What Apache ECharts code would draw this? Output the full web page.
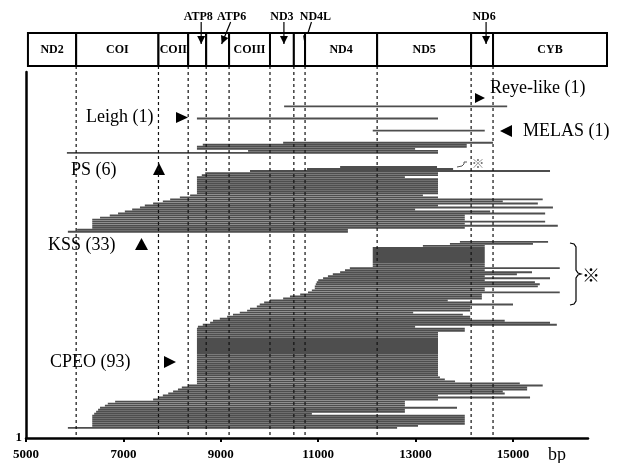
<!DOCTYPE html>
<html><head><meta charset="utf-8">
<script src="https://cdn.jsdelivr.net/npm/echarts@6/dist/echarts.min.js"></script>
<style>html,body{margin:0;padding:0;background:#fff}#c{width:621px;height:463px}</style>
</head><body><div id="c"></div>
<script>
// ---------- DATA ----------
const tickValues = [5000, 7000, 9000, 11000, 13000, 15000];
const geneNames  = ['ND2','COI','COII','ATP8','ATP6','COIII','ND3','ND4L','ND4','ND5','ND6','CYB'];
const geneStarts = [5040, 6030, 7720, 8330, 8700, 9170, 10010, 10500, 10730, 12210, 14140, 14590];
const geneEnds   = [6030, 7720, 8330, 8700, 9170, 10010, 10500, 10730, 12210, 14140, 14590, 16930];
const smallGenes = ['ATP8','ATP6','ND3','ND4L','ND6'];

// deletions, listed top to bottom (start bp, end bp)
const reyeStart  = [10300];
const reyeEnd    = [14880];
const leighStart = [8510];
const leighEnd   = [13460];
const melasStart = [12120];
const melasEnd   = [14420];
const psStart = [10280, 8630, 8510, 8510, 9560, 5840];
const psEnd   = [14590, 14050, 14050, 12990, 13460, 13460];
const kssStart = [11450,10770,9600,8680,8610,
  8510,8510,8510,8510,8510,8510,8510,8510,8510,
  8370,8160,7960,7810,7610,7440,7340,7180,7030,6890,6720,6520,
  6360,6360,6360,6360,6360,6050,5860];
const kssEnd = [13440,13770,15760,13460,13460,12780,
  13460,13460,13460,13460,13460,13460,13460,13460,
  13150,13460,15610,14790,15510,13460,15820,12990,14530,15660,14010,14010,14010,15660,14010,15920,14010,11610,11610];
const cpeoStart = [13910,13705,13150,
  12120,12120,12120,12120,12120,12120,12120,12120,12120,12120,
  11650,11550,11450,11300,11200,11100,11000,10970,10950,10930,10930,10870,10790,10630,10420,10280,
  10010,9890,9800,9740,9600,9540,9390,9250,9130,8980,8840,8780,8630,8530,
  8510,8510,8510,8510,8510,8510,8510,8510,8510,8510,8510,8510,8510,8510,
  8510,8510,8510,8510,8510,8510,8510,8510,8510,8510,8510,8510,8510,8510,
  8330,8200,8120,8020,7920,7810,7710,7610,
  6830,6680,6620,6520,6480,6440,6400,
  6360,6360,6360,6360,6360,6360,
  5860];
const cpeoEnd = [15720,15410,14420,
  14420,14420,14420,14420,14420,14420,14420,14420,14420,14420,
  15960,14420,15390,15080,14420,15760,14420,15450,15550,15510,14420,14420,15960,14360,14360,14360,
  13660,14160,15000,14120,14120,14120,12950,13970,14120,14120,14830,15760,15900,12990,
  14010,14010,
  13460,13460,13460,13460,13460,13460,13460,13460,13460,13460,13460,
  13460,13460,13460,13460,13460,13460,13460,13460,13460,13460,13460,
  13500,13600,13810,15140,
  15610,15290,15290,14790,14830,13460,15350,13460,
  12780,12780,12780,13850,12780,12780,10870,
  14010,14010,14010,14010,14010,13050,
  12620];

// ---------- LAYOUT ----------
const groups = [
  {starts: reyeStart,  ends: reyeEnd,  topRow: 164},
  {starts: leighStart, ends: leighEnd, topRow: 158},
  {starts: melasStart, ends: melasEnd, topRow: 152},
  {starts: psStart,    ends: psEnd,    topRow: 146},
  {starts: kssStart,   ends: kssEnd,   topRow: 134},
  {starts: cpeoStart,  ends: cpeoEnd,  topRow: 97}
];
const bars = [];
groups.forEach(g => g.starts.forEach((s, i) => bars.push([s, g.ends[i], g.topRow - i])));
const geneData = geneNames.map((n, i) => [geneStarts[i], geneEnds[i]]);
const boundaryData = geneStarts.slice(1).map(b => [b]);

const SERIF = '"Liberation Serif","Times New Roman",serif';
const arrowStyle = {ATP8:{lx:1,sx:4,tx:4}, ATP6:{lx:14,sx:13,tx:4}, ND3:{lx:0,sx:2,tx:2}, ND4L:{lx:16,sx:12,tx:5}, ND6:{lx:2,sx:4,tx:4}};

function arrowHead(sx, sy, tx, ty, len, hw) {
  const dx = tx - sx, dy = ty - sy, L = Math.hypot(dx, dy);
  const ux = dx / L, uy = dy / L;
  const bx = tx - ux * len, by = ty - uy * len;
  return [[tx, ty], [bx - uy * hw, by + ux * hw], [bx + uy * hw, by - ux * hw]];
}

const chart = echarts.init(document.getElementById('c'));
const option = {
  animation: false,
  backgroundColor: '#fff',
  grid: [
    {left: 26, top: 72, width: 562, height: 366},
    {left: 26, top: 33, width: 581, height: 33}
  ],
  xAxis: [
    {type: 'value', gridIndex: 0, min: 5000, max: 16540,
      axisLine: {show: true, lineStyle: {color: '#000', width: 2.5}},
      axisTick: {show: true, length: 4, customValues: tickValues, lineStyle: {color: '#000', width: 2}},
      axisLabel: {customValues: tickValues, formatter: v => String(v), color: '#000', fontFamily: SERIF, fontWeight: 'bold', fontSize: 13, margin: 10},
      splitLine: {show: false}},
    {type: 'value', gridIndex: 1, min: 5000, max: 16930, show: false}
  ],
  yAxis: [
    {type: 'value', gridIndex: 0, min: 0, max: 181, interval: 181,
      axisLine: {show: true, lineStyle: {color: '#000', width: 2.5}},
      axisTick: {show: false},
      axisLabel: {formatter: v => v === 0 ? '1' : '', color: '#000', fontFamily: SERIF, fontWeight: 'bold', fontSize: 13, margin: 4, verticalAlign: 'middle'},
      splitLine: {show: false}},
    {type: 'value', gridIndex: 1, min: 0, max: 1, show: false}
  ],
  series: [
    {type: 'custom', xAxisIndex: 0, yAxisIndex: 0, data: bars, encode: {x: [0, 1], y: 2}, z: 2,
      renderItem: function (params, api) {
        const s = api.coord([api.value(0), api.value(2)]);
        const e = api.coord([api.value(1), api.value(2)]);
        const h = api.size([0, 1])[1] * 0.95;
        return {type: 'rect', shape: {x: s[0], y: s[1] - h / 2, width: e[0] - s[0], height: h}, style: {fill: '#4e4e4e'}};
      }},
    {type: 'custom', xAxisIndex: 0, yAxisIndex: 0, data: boundaryData, encode: {x: 0}, z: 3, clip: false,
      renderItem: function (params, api) {
        const top = api.coord([api.value(0), 181]);
        const bot = api.coord([api.value(0), 0]);
        return {type: 'line', shape: {x1: top[0], y1: top[1] - 6, x2: bot[0], y2: bot[1] - 2},
          style: {stroke: '#111', lineWidth: 1.2, lineDash: [3, 3]}};
      }},
    {type: 'custom', xAxisIndex: 1, yAxisIndex: 1, data: geneData, encode: {x: [0, 1]}, z: 4, clip: false,
      renderItem: function (params, api) {
        const name = geneNames[params.dataIndex];
        const a = api.coord([api.value(0), 1]);
        const b = api.coord([api.value(1), 0]);
        const cx = (a[0] + b[0]) / 2, cy = (a[1] + b[1]) / 2;
        const children = [{type: 'rect', shape: {x: a[0], y: a[1], width: b[0] - a[0], height: b[1] - a[1]},
          style: {fill: '#fff', stroke: '#000', lineWidth: 2}}];
        if (smallGenes.indexOf(name) < 0) {
          children.push({type: 'text', x: cx, y: cy, style: {text: name, align: 'center', verticalAlign: 'middle',
            font: 'bold 12px ' + SERIF, fill: '#000'}});
        } else {
          const st = arrowStyle[name];
          const sx = cx + st.sx, sy = a[1] - 11, tx = cx + st.tx, ty = a[1] + 11;
          children.push({type: 'text', x: cx + st.lx, y: a[1] - 16, style: {text: name, align: 'center', verticalAlign: 'middle',
            font: 'bold 12px ' + SERIF, fill: '#000'}});
          children.push({type: 'line', shape: {x1: sx, y1: sy, x2: tx, y2: ty}, style: {stroke: '#000', lineWidth: 1.2}});
          children.push({type: 'polygon', shape: {points: arrowHead(sx, sy, tx, ty, 8, 4)}, style: {fill: '#000'}});
        }
        return {type: 'group', children: children};
      }}
  ],
  graphic: [
    {type: 'text', x: 490, y: 88, style: {text: 'Reye-like (1)', font: '18px ' + SERIF, fill: '#000', verticalAlign: 'middle'}},
    {type: 'polygon', shape: {points: [[475, 93], [485, 98], [475, 103]]}, style: {fill: '#000'}},
    {type: 'text', x: 86, y: 117, style: {text: 'Leigh (1)', font: '18px ' + SERIF, fill: '#000', verticalAlign: 'middle'}},
    {type: 'polygon', shape: {points: [[176, 112], [188, 117.5], [176, 123]]}, style: {fill: '#000'}},
    {type: 'text', x: 523, y: 131, style: {text: 'MELAS (1)', font: '18px ' + SERIF, fill: '#000', verticalAlign: 'middle'}},
    {type: 'polygon', shape: {points: [[512, 125], [500, 131], [512, 137]]}, style: {fill: '#000'}},
    {type: 'text', x: 71, y: 170, style: {text: 'PS (6)', font: '18px ' + SERIF, fill: '#000', verticalAlign: 'middle'}},
    {type: 'polygon', shape: {points: [[153, 175], [159, 163], [165, 175]]}, style: {fill: '#000'}},
    {type: 'text', x: 48, y: 245, style: {text: 'KSS (33)', font: '18px ' + SERIF, fill: '#000', verticalAlign: 'middle'}},
    {type: 'polygon', shape: {points: [[135, 250], [141.5, 238], [148, 250]]}, style: {fill: '#000'}},
    {type: 'text', x: 50, y: 362, style: {text: 'CPEO (93)', font: '18px ' + SERIF, fill: '#000', verticalAlign: 'middle'}},
    {type: 'polygon', shape: {points: [[164, 356], [176, 362], [164, 368]]}, style: {fill: '#000'}},
    {type: 'polyline', shape: {points: [[570,243],[574,244],[576,247],[576,270],[578,273],[581,274],[578,275],[576,278],[576,301],[574,304],[570,305]]},
      style: {stroke: '#000', lineWidth: 1.2, fill: null}},
    {type: 'text', x: 591, y: 275, style: {text: '※', font: '18px "Noto Sans CJK JP"', fill: '#000', align: 'center', verticalAlign: 'middle'}},
    {type: 'polyline', shape: {points: [[457,167],[462,166],[464,164],[464,162],[467,162]]},
      style: {stroke: '#555', lineWidth: 1, fill: null}},
    {type: 'text', x: 478, y: 163, style: {text: '※', font: '13px "Noto Sans CJK JP"', fill: '#777', align: 'center', verticalAlign: 'middle'}},
    {type: 'text', x: 557, y: 455, style: {text: 'bp', font: '18px ' + SERIF, fill: '#000', align: 'center', verticalAlign: 'middle'}}
  ]
};
chart.setOption(option);
</script>
</body></html>
